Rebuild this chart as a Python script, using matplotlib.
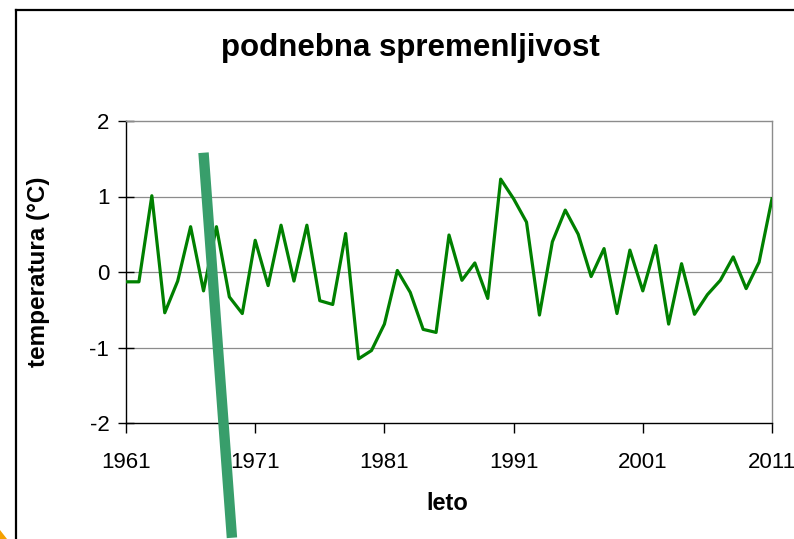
import matplotlib
matplotlib.use("Agg")
import matplotlib.pyplot as plt
from matplotlib.lines import Line2D
from matplotlib.patches import Polygon

plt.rcParams["font.family"] = ["Liberation Sans", "DejaVu Sans"]

# yearly temperature anomaly (°C), 1961-2011
years = list(range(1961, 2012))
anomaly = [
    -0.13, -0.13, 1.01, -0.54, -0.12, 0.60, -0.25, 0.60, -0.33, -0.55,
    0.42, -0.18, 0.62, -0.12, 0.62, -0.38, -0.43, 0.51, -1.15, -1.04,
    -0.69, 0.02, -0.27, -0.76, -0.80, 0.49, -0.11, 0.12, -0.35, 1.23,
    0.97, 0.66, -0.57, 0.40, 0.82, 0.50, -0.06, 0.31, -0.55, 0.29,
    -0.25, 0.35, -0.69, 0.11, -0.56, -0.30, -0.11, 0.20, -0.22, 0.13,
    0.97,
]
x_ticks = [1961, 1971, 1981, 1991, 2001, 2011]
y_ticks = [-2, -1, 0, 1, 2]

# overlay stroke drawn on top of the chart (data coords: year, °C)
stroke_x = [1967.0, 1969.2]
stroke_y = [1.58, -3.52]

W, H = 794, 539
fig = plt.figure(figsize=(W / 100, H / 100), dpi=100)
ax = fig.add_axes([126 / W, 1 - 423 / H, (772 - 126) / W, (423 - 121) / H])

ax.plot(years, anomaly, color="#008000", linewidth=2.3, zorder=3)

ax.set_xlim(1961, 2011)
ax.set_ylim(-2, 2)
ax.set_xticks(x_ticks)
ax.set_yticks(y_ticks)
ax.set_yticklabels([str(v) for v in y_ticks])
ax.tick_params(axis="x", direction="out", length=7, width=1, pad=14, labelsize=16)
ax.tick_params(axis="y", direction="inout", length=12, width=1, pad=6, labelsize=16)

for v in [-1, 0, 1]:
    ax.axhline(v, color="#8c8c8c", linewidth=0.9, zorder=1)

ax.spines["left"].set_color("black")
ax.spines["bottom"].set_color("black")
ax.spines["top"].set_color("#8c8c8c")
ax.spines["right"].set_color("#8c8c8c")
for s in ax.spines.values():
    s.set_linewidth(1.0)

fig.text(39 / W, 1 - 272 / H, "temperatura (°C)", rotation=90, ha="center", va="center",
         fontsize=17.5, fontweight="bold")
fig.text(447 / W, 1 - 503 / H, "leto", ha="center", va="center",
         fontsize=17, fontweight="bold")
fig.text(410 / W, 1 - 48 / H, "podnebna spremenljivost", ha="center", va="center",
         fontsize=22.5, fontweight="bold")

# thick green stroke crossing the chart
ax.plot(stroke_x, stroke_y, color="#389e6b", linewidth=7.5, solid_capstyle="butt",
        clip_on=False, zorder=5)

# outer frame and orange corner
fig.add_artist(Line2D([15.5 / W, 15.5 / W], [0, 1 - 10 / H], color="black", linewidth=1.6))
fig.add_artist(Line2D([15.5 / W, 1], [1 - 10 / H, 1 - 10 / H], color="black", linewidth=1.6))
fig.add_artist(Polygon([[0, 0], [0, 9 / H], [7 / W, 0]], closed=True,
                       transform=fig.transFigure, facecolor="#f5a000", edgecolor="none"))

fig.savefig("out.png", dpi=100)
